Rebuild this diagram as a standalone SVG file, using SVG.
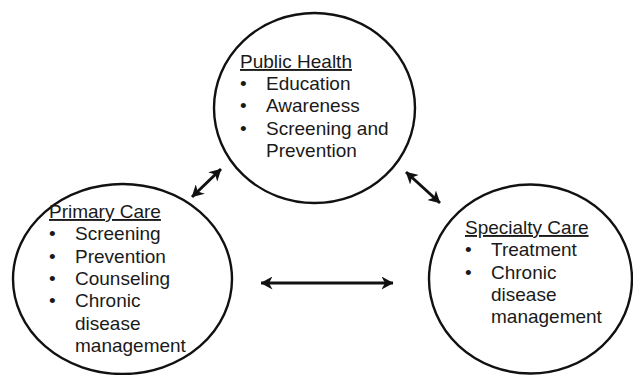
<svg xmlns="http://www.w3.org/2000/svg" width="633" height="375" viewBox="0 0 633 375">
<defs>
<style>
.c{fill:none;stroke:#111;stroke-width:2.4}
.t{font-family:"Liberation Sans",Arial,sans-serif;font-size:19px;fill:#1a1a1a}
.h{text-decoration:underline}
.a{stroke:#111;stroke-width:3;fill:none}
</style>
<marker id="ah" viewBox="0 0 12 13" refX="11.5" refY="6.5" markerWidth="12" markerHeight="13" markerUnits="userSpaceOnUse" orient="auto-start-reverse">
<path d="M0,0 L12,6.5 L0,13 L3.5,6.5 Z" fill="#111"/>
</marker>
</defs>
<rect width="633" height="375" fill="#fff"/>
<g id="public-health">
<ellipse class="c" cx="314.5" cy="108" rx="100.5" ry="95"/>
<text class="t h" x="240" y="68">Public Health</text>
<text class="t" x="240" y="90">•</text><text class="t" x="266" y="90">Education</text>
<text class="t" x="240" y="112">•</text><text class="t" x="266" y="112">Awareness</text>
<text class="t" x="240" y="135">•</text><text class="t" x="266" y="135">Screening and</text>
<text class="t" x="266" y="157">Prevention</text>
</g>
<g id="primary-care">
<ellipse class="c" cx="122.5" cy="279" rx="109.5" ry="95"/>
<text class="t h" x="49" y="218">Primary Care</text>
<text class="t" x="49" y="240">•</text><text class="t" x="75" y="240">Screening</text>
<text class="t" x="49" y="263">•</text><text class="t" x="75" y="263">Prevention</text>
<text class="t" x="49" y="285">•</text><text class="t" x="75" y="285">Counseling</text>
<text class="t" x="49" y="307">•</text><text class="t" x="75" y="307">Chronic</text>
<text class="t" x="75" y="330">disease</text>
<text class="t" x="75" y="352">management</text>
</g>
<g id="specialty-care">
<ellipse class="c" cx="530.5" cy="279" rx="101.5" ry="94.5"/>
<text class="t h" x="465" y="234">Specialty Care</text>
<text class="t" x="465" y="256">•</text><text class="t" x="491" y="256">Treatment</text>
<text class="t" x="465" y="279">•</text><text class="t" x="491" y="279">Chronic</text>
<text class="t" x="491" y="301">disease</text>
<text class="t" x="491" y="323">management</text>
</g>
<g id="connectors">
<line class="a" x1="192" y1="197" x2="221" y2="169" marker-start="url(#ah)" marker-end="url(#ah)"/>
<line class="a" x1="406" y1="172" x2="440" y2="203" marker-start="url(#ah)" marker-end="url(#ah)"/>
<line class="a" x1="261" y1="283" x2="393" y2="283" marker-start="url(#ah)" marker-end="url(#ah)"/>
</g>
</svg>
